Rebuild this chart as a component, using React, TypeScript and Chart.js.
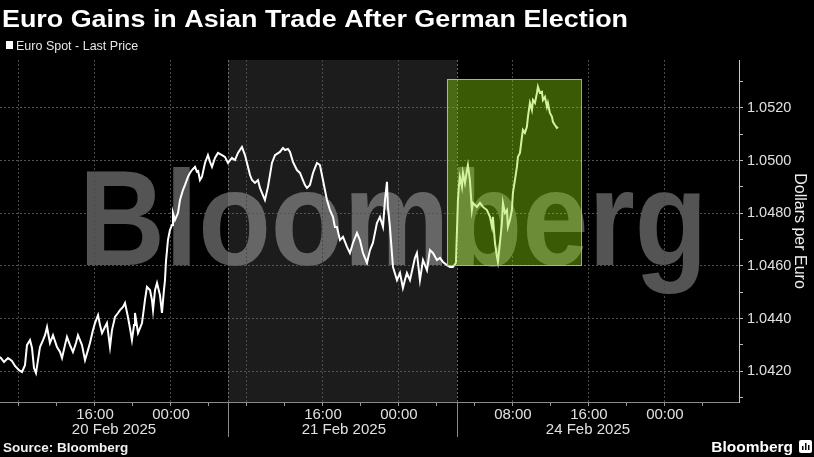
import React, { useEffect, useRef } from 'react';
import { Chart, registerables } from 'chart.js';

Chart.register(...registerables);

const TITLE = 'Euro Gains in Asian Trade After German Election';
const SERIES_LABEL = 'Euro Spot - Last Price';
const Y_TITLE = 'Dollars per Euro';
const SOURCE = 'Source: Bloomberg';
const BRAND = 'Bloomberg';

// Trading hours elapsed since 20 Feb 2025 06:00 (weekend removed)
const hours = [
  0, 0.42, 0.84, 1.26, 1.58, 2.0, 2.32, 2.63, 2.84, 3.16, 3.37, 3.58, 3.79, 4.0, 4.21, 4.53, 4.74, 4.95, 5.26, 5.58,
  6.0, 6.32, 6.53, 6.84, 7.05, 7.37, 7.68, 8.0, 8.21, 8.63, 8.95, 9.26, 9.47, 9.79, 10.0, 10.32, 10.53, 10.74, 11.05, 11.26,
  11.58, 11.79, 12.11, 12.42, 12.63, 12.95, 13.16, 13.47, 13.68, 13.89, 14.11, 14.21, 14.53, 14.74, 14.95, 15.26, 15.47, 15.79, 16.0, 16.11,
  16.32, 16.53, 16.84, 17.05, 17.26, 17.37, 17.47, 17.68, 17.89, 18.11, 18.21, 18.42, 18.74, 18.95, 19.26, 19.47, 19.79, 20.0, 20.21, 20.53,
  20.74, 20.84, 21.05, 21.26, 21.58, 21.89, 22.11, 22.32, 22.63, 22.95, 23.37, 23.68, 24.0,
  24.42, 24.74, 25.05, 25.47, 25.79, 26.11, 26.32, 26.53, 26.84, 27.16, 27.37, 27.58, 27.89, 28.21, 28.42, 28.63, 28.95, 29.47, 29.79, 30.0,
  30.32, 30.53, 30.84, 31.26, 31.58, 31.89, 32.11, 32.32, 32.63, 32.95, 33.16, 33.37, 33.68, 34.0, 34.21, 34.42, 34.74, 35.05, 35.26, 35.47,
  35.79, 36.11, 36.53, 36.84, 37.16, 37.58, 37.89, 38.21, 38.63, 38.95, 39.26, 39.68, 40.0, 40.32, 40.53, 40.74, 40.84, 41.05, 41.37, 41.79,
  42.11, 42.42, 42.63, 42.84, 43.16, 43.47, 43.68, 43.89, 44.21, 44.53, 44.95, 45.26, 45.58, 46.0, 46.32, 46.63, 47.05, 47.37, 47.68, 48.0,
  48.21, 48.32, 48.42, 48.63, 48.74, 48.95, 49.16, 49.26, 49.47, 49.68, 49.79, 50.21, 50.53, 50.84, 51.26, 51.58, 51.79, 51.89, 52.11, 52.32,
  52.42, 52.63, 52.84, 52.95, 53.16, 53.37, 53.47, 53.68, 53.89, 54.0, 54.21, 54.42, 54.53, 54.74, 54.95, 55.05, 55.26, 55.47, 55.58, 55.79,
  56.0, 56.11, 56.32, 56.53, 56.63, 56.84, 57.05, 57.16, 57.37, 57.58, 57.68, 57.89, 58.11, 58.21, 58.42, 58.63, 58.74,
];

const prices = [
  1.04254, 1.04235, 1.0425, 1.04239, 1.0422, 1.04204, 1.04197, 1.04223, 1.04299, 1.04318, 1.04288, 1.04212, 1.04193, 1.04242, 1.04292, 1.04318, 1.04337, 1.04368, 1.04307, 1.04337,
  1.04292, 1.04273, 1.0425, 1.04299, 1.0433, 1.04299, 1.04273, 1.04307, 1.04337, 1.04299, 1.04242, 1.0428, 1.04307, 1.04356, 1.04383, 1.04413, 1.04375, 1.04345, 1.04368, 1.04383,
  1.04292, 1.04356, 1.04406, 1.04421, 1.04432, 1.04444, 1.04459, 1.04406, 1.04364, 1.04318, 1.04375, 1.04421, 1.04345, 1.04364, 1.04383, 1.0447, 1.0452, 1.04508, 1.0447, 1.04432,
  1.04508, 1.04535, 1.04489, 1.04421, 1.04508, 1.04546, 1.04615, 1.04698, 1.04736, 1.04755, 1.04801, 1.04774, 1.04801, 1.0485, 1.04888, 1.04907, 1.04938, 1.04953, 1.04964, 1.04976,
  1.04957, 1.04964, 1.04926, 1.04938, 1.04991, 1.05021, 1.04995, 1.04976, 1.0501, 1.05029, 1.05021, 1.05014, 1.04991,
  1.0501, 1.05002, 1.05029, 1.05052, 1.05021, 1.04976, 1.04945, 1.04926, 1.04915, 1.04926, 1.04896, 1.04877, 1.0485, 1.049, 1.04945, 1.04991, 1.05021, 1.05033, 1.05048, 1.0504,
  1.05044, 1.05033, 1.04995, 1.04964, 1.04953, 1.04926, 1.04907, 1.04896, 1.04907, 1.04953, 1.04972, 1.04991, 1.04983, 1.04926, 1.04888, 1.0485, 1.04812, 1.04786, 1.04748, 1.04748,
  1.04698, 1.0471, 1.04672, 1.04649, 1.04687, 1.04725, 1.04698, 1.04649, 1.04611, 1.0466, 1.04687, 1.04763, 1.04786, 1.04748, 1.0485, 1.04919, 1.04824, 1.04748, 1.04596, 1.04546,
  1.04573, 1.04516, 1.04546, 1.04573, 1.04546, 1.04596, 1.0463, 1.04649, 1.04546, 1.04622, 1.04584, 1.0466, 1.04649, 1.04622, 1.0463, 1.04615, 1.04603, 1.04596, 1.04596, 1.04611,
  1.0485, 1.04907, 1.04938, 1.049, 1.04953, 1.04915, 1.04964, 1.04983, 1.04926, 1.04812, 1.04839, 1.04824, 1.04839, 1.04824, 1.04812, 1.04786, 1.04748, 1.04786, 1.04687, 1.04634,
  1.04615, 1.04687, 1.04763, 1.04839, 1.04801, 1.04812, 1.04748, 1.04774, 1.04812, 1.04877, 1.04926, 1.04976, 1.05014, 1.05029, 1.0509, 1.05116, 1.05105, 1.05128, 1.05166, 1.05219,
  1.05192, 1.0523, 1.05219, 1.05257, 1.0528, 1.05257, 1.05261, 1.0523, 1.05242, 1.05204, 1.05219, 1.05181, 1.05166, 1.05147, 1.05135, 1.05124, 1.05128,
];

const xMin = 0;
const xMax = 77.8;
const yMin = 1.04083;
const yMax = 1.05382;

const minorTickHours = [2, 6, 10, 14, 18, 22, 26, 30, 34, 38, 42, 46, 50, 54, 58, 62, 66, 70, 74];
const gridHours = [2, 10, 18, 26, 34, 42, 54, 62, 70];
const timeTickHours = [10, 18, 34, 42, 54, 62, 70];
const timeTickLabels = ['16:00', '00:00', '16:00', '00:00', '08:00', '16:00', '00:00'];
const sessionBreaks = [24, 48.1];
const sessionLabels = ['20 Feb 2025', '21 Feb 2025', '24 Feb 2025'];
const sessionLabelHours = [12, 36.2, 61.9];
const yTickValues = [1.041, 1.042, 1.043, 1.044, 1.045, 1.046, 1.047, 1.048, 1.049, 1.05, 1.051, 1.052, 1.053];
const highlightHours = [47.05, 61.16];
const highlightPrices = [1.04603, 1.0531];

const FONT = '"Liberation Sans", Arial, sans-serif';

const isMajorY = (v: number) => Math.round(v * 1000) % 2 === 0;

const decorPlugin = {
  id: 'decor',
  beforeDraw(chart: any) {
    const { ctx, chartArea: a, scales } = chart;
    const x = scales.x;
    ctx.save();
    ctx.fillStyle = '#000';
    ctx.fillRect(0, 0, chart.width, chart.height);
    // shaded middle session
    const s1 = x.getPixelForValue(sessionBreaks[0]);
    const s2 = x.getPixelForValue(sessionBreaks[1]);
    ctx.fillStyle = '#1c1c1c';
    ctx.fillRect(s1, a.top, s2 - s1, a.bottom - a.top);
    // watermark
    ctx.font = `bold 135px ${FONT}`;
    ctx.textBaseline = 'alphabetic';
    ctx.textAlign = 'left';
    const m = ctx.measureText(BRAND);
    const ink = m.actualBoundingBoxLeft + m.actualBoundingBoxRight;
    const sx = 613 / ink;
    ctx.translate(87, 265);
    ctx.scale(sx, 1);
    ctx.fillStyle = 'rgba(255,255,255,0.33)';
    ctx.fillText(BRAND, m.actualBoundingBoxLeft, 0);
    ctx.restore();
  },
  beforeDatasetsDraw(chart: any) {
    const { ctx, chartArea: a, scales } = chart;
    const x = scales.x;
    ctx.save();
    ctx.strokeStyle = '#6a6a6a';
    ctx.lineWidth = 1;
    ctx.setLineDash([2, 2]);
    sessionBreaks.forEach((h) => {
      const px = Math.round(x.getPixelForValue(h)) + 0.5;
      ctx.beginPath();
      ctx.moveTo(px, a.top);
      ctx.lineTo(px, a.bottom);
      ctx.stroke();
    });
    ctx.restore();
  },
  afterDatasetsDraw(chart: any) {
    const { ctx, scales } = chart;
    const x = scales.x;
    const y = scales.y;
    const x1 = x.getPixelForValue(highlightHours[0]);
    const x2 = x.getPixelForValue(highlightHours[1]);
    const y1 = y.getPixelForValue(highlightPrices[1]);
    const y2 = y.getPixelForValue(highlightPrices[0]);
    ctx.save();
    ctx.fillStyle = 'rgba(145,225,15,0.40)';
    ctx.fillRect(x1, y1, x2 - x1, y2 - y1);
    ctx.strokeStyle = 'rgba(165,225,80,0.85)';
    ctx.lineWidth = 1;
    ctx.strokeRect(Math.round(x1) + 0.5, Math.round(y1) + 0.5, Math.round(x2 - x1), Math.round(y2 - y1));
    ctx.restore();
  },
  afterDraw(chart: any) {
    const { ctx, chartArea: a, scales } = chart;
    const x = scales.x;
    ctx.save();
    // title
    ctx.font = `bold 24px ${FONT}`;
    ctx.textBaseline = 'alphabetic';
    ctx.textAlign = 'left';
    const tw = ctx.measureText(TITLE).width;
    ctx.save();
    ctx.translate(2, 27);
    ctx.scale(626 / tw, 1);
    ctx.fillStyle = '#ffffff';
    ctx.fillText(TITLE, 0, 0);
    ctx.restore();
    // legend
    ctx.fillStyle = '#ffffff';
    ctx.fillRect(6, 41, 7, 8);
    ctx.font = `12.5px ${FONT}`;
    ctx.fillStyle = '#e6e6e6';
    ctx.fillText(SERIES_LABEL, 16, 50);
    // session separators below axis
    ctx.strokeStyle = '#8a8a8a';
    ctx.lineWidth = 1;
    sessionBreaks.forEach((h) => {
      const px = Math.round(x.getPixelForValue(h)) + 0.5;
      ctx.beginPath();
      ctx.moveTo(px, a.bottom);
      ctx.lineTo(px, 437);
      ctx.stroke();
    });
    // session date labels
    ctx.font = `15px ${FONT}`;
    ctx.fillStyle = '#e0e0e0';
    ctx.textAlign = 'center';
    sessionLabels.forEach((lab, i) => {
      ctx.fillText(lab, x.getPixelForValue(sessionLabelHours[i]), 434);
    });
    // source
    ctx.textAlign = 'left';
    ctx.font = `bold 13.5px ${FONT}`;
    ctx.fillStyle = '#f2f2f2';
    ctx.fillText(SOURCE, 3, 452);
    // brand
    ctx.textAlign = 'right';
    ctx.font = `bold 15.5px ${FONT}`;
    ctx.fillStyle = '#ffffff';
    ctx.fillText(BRAND, 793, 452);
    // brand icon
    ctx.fillStyle = '#ffffff';
    ctx.beginPath();
    (ctx as any).roundRect(799, 440, 13, 13, 2);
    ctx.fill();
    ctx.fillStyle = '#000000';
    ctx.fillRect(802, 446, 1.5, 4);
    ctx.fillRect(805, 443, 1.5, 7);
    ctx.fillRect(808, 445, 1.5, 5);
    ctx.restore();
  },
};

export default function App() {
  const ref = useRef<HTMLCanvasElement>(null);
  useEffect(() => {
    if (!ref.current) return;
    const data = hours.map((h, i) => ({ x: h, y: prices[i] }));
    const chart = new Chart(ref.current, {
      type: 'line',
      data: {
        datasets: [
          {
            label: SERIES_LABEL,
            data,
            borderColor: '#ffffff',
            borderWidth: 2,
            pointRadius: 0,
            tension: 0,
            fill: false,
          },
        ],
      },
      options: {
        animation: false,
        responsive: false,
        devicePixelRatio: 1,
        layout: { padding: { top: 60, left: 0, right: 0, bottom: 0 } },
        plugins: {
          legend: { display: false },
          title: { display: false },
          tooltip: { enabled: false },
        },
        scales: {
          x: {
            type: 'linear',
            min: xMin,
            max: xMax,
            afterBuildTicks: (s: any) => {
              s.ticks = minorTickHours.map((v) => ({ value: v }));
            },
            afterFit: (s: any) => {
              s.height = 55;
            },
            grid: {
              color: (c: any) => (c.tick && gridHours.includes(c.tick.value) ? '#4a4a4a' : 'rgba(0,0,0,0)'),
              lineWidth: 1,
              tickLength: 4,
              tickColor: '#9a9a9a',
            },
            border: { display: true, color: '#8a8a8a', width: 1, dash: [2, 2] },
            ticks: {
              autoSkip: false,
              maxRotation: 0,
              padding: 0,
              color: '#e0e0e0',
              font: { family: FONT, size: 15 },
              callback: (v: any) => {
                const i = timeTickHours.indexOf(Number(v));
                return i >= 0 ? timeTickLabels[i] : '';
              },
            },
          },
          y: {
            type: 'linear',
            position: 'right',
            min: yMin,
            max: yMax,
            afterBuildTicks: (s: any) => {
              s.ticks = yTickValues.map((v) => ({ value: v }));
            },
            afterFit: (s: any) => {
              s.width = 75;
            },
            grid: {
              color: (c: any) => (c.tick && isMajorY(c.tick.value) ? '#555555' : 'rgba(0,0,0,0)'),
              lineWidth: 1,
              tickLength: 4,
              tickColor: '#bbbbbb',
            },
            border: { display: true, color: '#c8c8c8', width: 1, dash: [2, 2] },
            ticks: {
              autoSkip: false,
              padding: 4,
              color: '#e0e0e0',
              font: { family: FONT, size: 14.5 },
              callback: (v: any) => (isMajorY(Number(v)) ? Number(v).toFixed(4) : ''),
            },
            title: {
              display: true,
              text: Y_TITLE,
              color: '#eeeeee',
              font: { family: FONT, size: 16 },
              padding: { top: 5, bottom: 0 },
            },
          },
        },
      },
      plugins: [decorPlugin],
    } as any);
    return () => chart.destroy();
  }, []);
  return (
    <div style={{ position: 'absolute', left: 0, top: 0, width: 814, height: 457, background: '#000', overflow: 'hidden' }}>
      <canvas ref={ref} width={814} height={457} style={{ display: 'block', width: '814px', height: '457px' }} />
    </div>
  );
}
